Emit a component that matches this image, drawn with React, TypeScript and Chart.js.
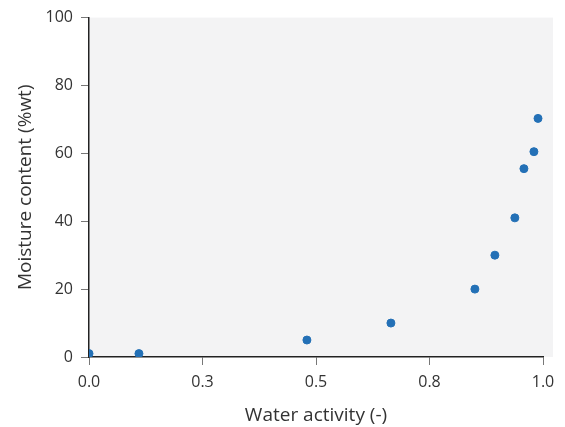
import React, { useEffect, useRef } from "react";
import { Chart, registerables } from "chart.js";

Chart.register(...registerables);

const waterActivity = [0.0, 0.11, 0.48, 0.665, 0.85, 0.894, 0.938, 0.958, 0.98, 0.989];
const moistureContent = [1, 1, 5, 10, 20, 30, 41, 55.5, 60.5, 70.3];
const xTicks = [0, 0.25, 0.5, 0.75, 1.0];
const yTicks = [0, 20, 40, 60, 80, 100];

const FONT = "'Open Sans', sans-serif";
const TEXT = "#333333";

const bgPlugin = {
  id: "plotBg",
  beforeDraw(chart: any) {
    const { ctx, chartArea } = chart;
    ctx.save();
    ctx.fillStyle = "#f3f3f4";
    ctx.fillRect(chartArea.left, chartArea.top, chartArea.right - chartArea.left + 10, chartArea.bottom - chartArea.top);
    ctx.restore();
  },
};

export default function App() {
  const ref = useRef<HTMLCanvasElement>(null);
  useEffect(() => {
    document.body.style.margin = "0";
    const chart = new Chart(ref.current!, {
      type: "scatter",
      data: {
        datasets: [
          {
            data: waterActivity.map((x, i) => ({ x, y: moistureContent[i] })),
            backgroundColor: "#2370b6",
            borderColor: "#2370b6",
            pointRadius: 4,
            pointHoverRadius: 4,
          },
        ],
      },
      options: {
        animation: false,
        responsive: false,
        maintainAspectRatio: false,
        layout: { padding: { top: 17, right: 22, left: 0, bottom: 0 } },
        plugins: { legend: { display: false }, tooltip: { enabled: false } },
        scales: {
          x: {
            type: "linear",
            min: 0,
            max: 1,
            afterBuildTicks: (s: any) => {
              s.ticks = xTicks.map((v) => ({ value: v }));
            },
            afterFit: (s: any) => {
              s.height = 70;
            },
            ticks: {
              callback: (v: any) => Number(v).toFixed(1),
              font: { family: FONT, size: 16 },
              color: TEXT,
              padding: 8,
              maxRotation: 0,
            },
            grid: { drawOnChartArea: false, drawTicks: true, tickLength: 8, color: "#777" },
            border: { color: "#222", width: 1.5 },
            title: {
              display: true,
              text: "Water activity (-)",
              font: { family: FONT, size: 19 },
              color: TEXT,
              padding: { top: 4, bottom: 0 },
            },
          },
          y: {
            type: "linear",
            min: 0,
            max: 100,
            afterBuildTicks: (s: any) => {
              s.ticks = yTicks.map((v) => ({ value: v }));
            },
            afterFit: (s: any) => {
              s.width = 89;
            },
            ticks: {
              font: { family: FONT, size: 16 },
              color: TEXT,
              padding: 8,
            },
            grid: { drawOnChartArea: false, drawTicks: true, tickLength: 8, color: "#777" },
            border: { color: "#222", width: 1.5 },
            title: {
              display: true,
              text: "Moisture content (%wt)",
              font: { family: FONT, size: 19 },
              color: TEXT,
              padding: { top: 14, bottom: 0 },
            },
          },
        },
      },
      plugins: [bgPlugin],
    });
    return () => chart.destroy();
  }, []);
  return (
    <div style={{ width: 565, height: 427 }}>
      <canvas ref={ref} width={565} height={427} style={{ width: 565, height: 427, display: "block" }} />
    </div>
  );
}
